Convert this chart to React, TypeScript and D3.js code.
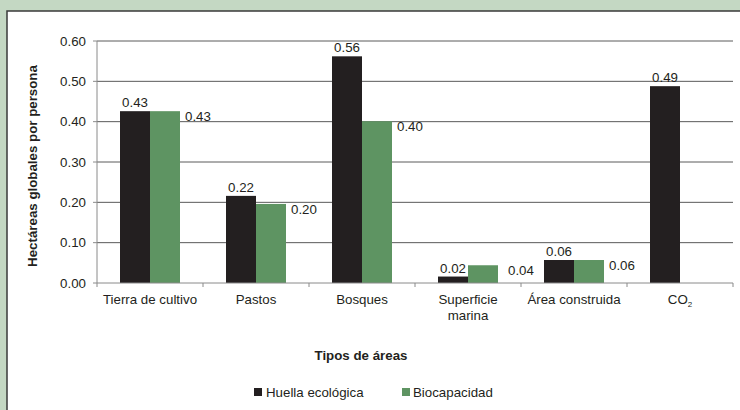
import React from "react";
import * as d3 from "d3";

const categories = ["Tierra de cultivo", "Pastos", "Bosques", "Superficie\nmarina", "Área construida", "CO2"];
const huella = [0.426, 0.216, 0.562, 0.016, 0.057, 0.488];
const biocapacidad: (number | null)[] = [0.426, 0.196, 0.401, 0.044, 0.057, null];
const yTicks = [0, 0.1, 0.2, 0.3, 0.4, 0.5, 0.6];
const seriesNames = ["Huella ecológica", "Biocapacidad"];
const colors = ["#231f20", "#5e9462"];

const W = 740, H = 410;
const FONT = "'Liberation Sans', Arial, Helvetica, sans-serif";
const FS = 13.3;

export default function App() {
  const x = d3.scaleBand<string>().domain(categories).range([97, 733]);
  const y = d3.scaleLinear().domain([0, 0.6]).range([283, 41]);
  const barW = 30;
  const fmt = d3.format(".2f");

  return (
    <svg width={W} height={H} style={{ position: "absolute", left: 0, top: 0 }} fontFamily={FONT}>
      <rect x={0} y={0} width={W} height={H} fill="#c4d8c3" />
      <rect x={7} y={11} width={W} height={H} fill="#ffffff" stroke="#3a3a3a" strokeWidth={1.5} />
      {/* gridlines */}
      {yTicks.slice(1).map((t) => (
        <line key={"g" + t} x1={97} x2={733} y1={y(t)} y2={y(t)} stroke="#5a5a5a" strokeWidth={1} />
      ))}
      {/* y ticks */}
      {yTicks.map((t) => (
        <g key={"t" + t}>
          <line x1={93} x2={97} y1={y(t)} y2={y(t)} stroke="#8a8a8a" />
          <text x={86} y={y(t)} dy="0.35em" textAnchor="end" fontSize={FS} fill="#231f20">{fmt(t)}</text>
        </g>
      ))}
      {/* bars */}
      {categories.map((c, i) => {
        const cx = (x(c) as number) + x.bandwidth() / 2;
        const h = huella[i];
        const b = biocapacidad[i];
        return (
          <g key={c}>
            <rect x={cx - barW} y={y(h)} width={barW} height={y(0) - y(h)} fill={colors[0]} />
            <text x={cx - barW / 2} y={y(h) - 4} textAnchor="middle" fontSize={FS} fill="#231f20">{fmt(h)}</text>
            {b !== null && (
              <>
                <rect x={cx} y={y(b)} width={barW} height={y(0) - y(b)} fill={colors[1]} />
                <text x={cx + barW + (b < 0.05 ? 10 : 5)} y={y(b) + 5} dy="0.35em" textAnchor="start" fontSize={FS} fill="#231f20">{fmt(b)}</text>
              </>
            )}
          </g>
        );
      })}
      {/* axes */}
      <line x1={97} x2={97} y1={41} y2={283} stroke="#8a8a8a" />
      <line x1={97} x2={733} y1={283} y2={283} stroke="#8a8a8a" />
      {categories.map((c) => (
        <line key={"xt" + c} x1={x(c) as number} x2={x(c) as number} y1={283} y2={287} stroke="#8a8a8a" />
      ))}
      <line x1={733} x2={733} y1={283} y2={287} stroke="#8a8a8a" />
      {/* category labels */}
      {categories.map((c) => {
        const cx = (x(c) as number) + x.bandwidth() / 2;
        if (c === "CO2") {
          return (
            <text key={"l" + c} x={cx} y={299} dy="0.35em" textAnchor="middle" fontSize={FS} fill="#231f20">
              CO<tspan fontSize={8} dy="3">2</tspan>
            </text>
          );
        }
        const lines = c.split("\n");
        return (
          <text key={"l" + c} x={cx} y={299} textAnchor="middle" fontSize={FS} fill="#231f20">
            {lines.map((ln, k) => (
              <tspan key={k} x={cx} dy={k === 0 ? "0.35em" : "16.5"}>{ln}</tspan>
            ))}
          </text>
        );
      })}
      {/* axis titles */}
      <text x={361} y={355} dy="0.35em" textAnchor="middle" fontSize={FS} fontWeight="bold" fill="#231f20">Tipos de áreas</text>
      <text transform="translate(32,166) rotate(-90)" dy="0.35em" textAnchor="middle" fontSize={FS} fontWeight="bold" fill="#231f20">
        Hectáreas globales por persona
      </text>
      {/* legend */}
      <rect x={254} y={388} width={8} height={8} fill={colors[0]} />
      <text x={266} y={397} fontSize={FS} fill="#231f20">{seriesNames[0]}</text>
      <rect x={402} y={388} width={8} height={8} fill={colors[1]} />
      <text x={413} y={397} fontSize={FS} fill="#231f20">{seriesNames[1]}</text>
    </svg>
  );
}
